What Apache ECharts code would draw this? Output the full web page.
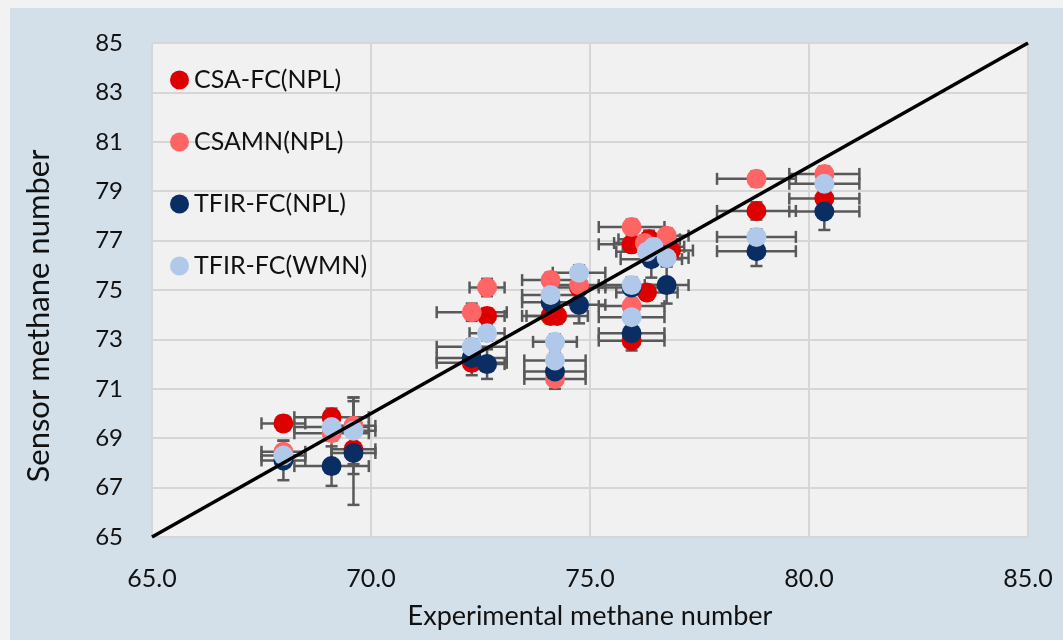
<!DOCTYPE html>
<html>
<head>
<meta charset="utf-8">
<script src="https://cdn.jsdelivr.net/npm/echarts@6/dist/echarts.min.js"></script>
<style>
  html, body { margin: 0; padding: 0; background: #f2f2f2; width: 1063px; height: 640px; overflow: hidden; }
  #chart { position: absolute; left: 10px; top: 8px; width: 1053px; height: 632px; }
</style>
</head>
<body>
<div id="chart"></div>
<script>
// ---- Data ----
const seriesNames = ['CSA-FC(NPL)', 'CSAMN(NPL)', 'TFIR-FC(NPL)', 'TFIR-FC(WMN)'];
const seriesColors = ['#dd0000', '#ff6565', '#0a2d63', '#b0c8ea'];

const csaFcX    = [68.0, 69.1, 69.6, 72.3, 72.65, 74.1, 74.25, 74.75, 75.95, 75.95, 76.35, 76.3, 76.85, 78.8, 80.35];
const csaFcY    = [69.6, 69.85, 68.55, 72.05, 73.95, 73.95, 73.95, 75.1, 76.85, 72.95, 77.05, 74.9, 76.6, 78.2, 78.7];
const csaFcXErr = [0.5, 0.85, 0.5, 0.8, 0.4, 0.65, 0.7, 0.6, 0.75, 0.75, 0.7, 0.7, 0.5, 0.9, 0.8];
const csaFcYErr = [0.3, 0.35, 1.0, 0.5, 0.3, 0.3, 0.3, 0.3, 0.3, 0.4, 0.35, 0.3, 0.3, 0.35, 0.3];

const csamnX    = [68.0, 69.1, 69.6, 72.3, 72.65, 74.1, 74.2, 74.75, 75.95, 75.95, 76.25, 76.75, 78.8, 80.35];
const csamnY    = [68.45, 69.2, 69.5, 74.1, 75.1, 75.4, 71.4, 75.2, 77.55, 74.35, 76.9, 77.2, 79.5, 79.7];
const csamnXErr = [0.5, 0.85, 0.5, 0.8, 0.4, 0.65, 0.7, 0.6, 0.75, 0.75, 0.7, 0.5, 0.9, 0.8];
const csamnYErr = [0.45, 0.3, 1.15, 0.35, 0.35, 0.3, 0.4, 0.3, 0.3, 0.3, 0.3, 0.3, 0.3, 0.3];

const tfirNplX    = [68.0, 69.1, 69.6, 72.3, 72.65, 74.1, 74.2, 74.75, 75.95, 75.95, 76.4, 76.75, 78.8, 80.35];
const tfirNplY    = [68.1, 67.87, 68.4, 72.25, 72.0, 74.5, 71.7, 74.4, 75.1, 73.25, 76.25, 75.2, 76.57, 78.18];
const tfirNplXErr = [0.5, 0.85, 0.5, 0.8, 0.4, 0.65, 0.7, 0.6, 0.75, 0.75, 0.7, 0.5, 0.9, 0.8];
const tfirNplYErr = [0.8, 0.8, 2.1, 0.3, 0.6, 0.3, 0.3, 0.75, 0.3, 0.3, 0.75, 0.75, 0.6, 0.75];

const tfirWmnX    = [68.0, 69.1, 69.6, 72.3, 72.65, 74.1, 74.2, 74.2, 74.75, 75.95, 75.95, 76.3, 76.45, 76.75, 78.8, 80.35];
const tfirWmnY    = [68.3, 69.45, 69.3, 72.7, 73.25, 74.8, 72.9, 72.15, 75.7, 75.2, 73.9, 76.55, 76.75, 76.3, 77.15, 79.3];
const tfirWmnXErr = [0.5, 0.85, 0.5, 0.8, 0.4, 0.65, 0.5, 0.7, 0.6, 0.75, 0.75, 0.7, 0.7, 0.5, 0.9, 0.8];
const tfirWmnYErr = [0.3, 0.3, 1.35, 0.3, 0.3, 0.3, 0.3, 0.3, 0.3, 0.3, 0.3, 0.3, 0.3, 0.3, 0.3, 0.3];

const identityLine = [[65, 65], [85, 85]];

const xAxisMin = 65, xAxisMax = 85, xAxisStep = 5;
const yAxisMin = 65, yAxisMax = 85, yAxisStep = 2;

// ---- Build options ----
const groups = [
  [csaFcX, csaFcY, csaFcXErr, csaFcYErr],
  [csamnX, csamnY, csamnXErr, csamnYErr],
  [tfirNplX, tfirNplY, tfirNplXErr, tfirNplYErr],
  [tfirWmnX, tfirWmnY, tfirWmnXErr, tfirWmnYErr]
];

const FONT = 'Lato';
const errColor = '#595959';

function errRender(params, api) {
  const x = api.value(0), y = api.value(1), ex = api.value(2), ey = api.value(3);
  const l = api.coord([x - ex, y]), r = api.coord([x + ex, y]);
  const t = api.coord([x, y + ey]), b = api.coord([x, y - ey]);
  const cap = 6;
  const st = { stroke: errColor, lineWidth: 2.5 };
  return {
    type: 'group',
    children: [
      { type: 'line', shape: { x1: l[0], y1: l[1], x2: r[0], y2: r[1] }, style: st },
      { type: 'line', shape: { x1: l[0], y1: l[1] - cap, x2: l[0], y2: l[1] + cap }, style: st },
      { type: 'line', shape: { x1: r[0], y1: r[1] - cap, x2: r[0], y2: r[1] + cap }, style: st },
      { type: 'line', shape: { x1: t[0], y1: t[1], x2: b[0], y2: b[1] }, style: st },
      { type: 'line', shape: { x1: t[0] - cap, y1: t[1], x2: t[0] + cap, y2: t[1] }, style: st },
      { type: 'line', shape: { x1: b[0] - cap, y1: b[1], x2: b[0] + cap, y2: b[1] }, style: st }
    ]
  };
}

const series = [];
groups.forEach(function (g, i) {
  const errData = g[0].map(function (x, k) { return [x, g[1][k], g[2][k], g[3][k]]; });
  series.push({
    name: seriesNames[i] + ' err',
    type: 'custom',
    renderItem: errRender,
    data: errData,
    encode: { x: 0, y: 1 },
    z: 1,
    silent: true
  });
});
groups.forEach(function (g, i) {
  series.push({
    name: seriesNames[i],
    type: 'scatter',
    data: g[0].map(function (x, k) { return [x, g[1][k]]; }),
    symbol: 'circle',
    symbolSize: 20,
    itemStyle: { color: seriesColors[i], opacity: 1 },
    z: 2 + i
  });
});
series.push({
  name: 'y = x',
  type: 'line',
  data: identityLine,
  symbol: 'none',
  lineStyle: { color: '#000', width: 3.5 },
  z: 10,
  silent: true
});

const chart = echarts.init(document.getElementById('chart'), null, { renderer: 'canvas' });
chart.setOption({
  animation: false,
  backgroundColor: '#d3dfe9',
  textStyle: { fontFamily: FONT },
  grid: {
    left: 142, right: 35, top: 35, bottom: 103,
    show: true, backgroundColor: '#f1f1f1', borderColor: '#cfcfcf', borderWidth: 1
  },
  legend: {
    data: seriesNames,
    orient: 'vertical',
    left: 155,
    top: 54,
    itemWidth: 19,
    itemHeight: 19,
    itemGap: 36,
    icon: 'circle',
    textStyle: { fontFamily: FONT, fontSize: 25, color: '#111', lineHeight: 26 }
  },
  xAxis: {
    type: 'value',
    min: xAxisMin, max: xAxisMax, interval: xAxisStep,
    name: 'Experimental methane number',
    nameLocation: 'middle',
    nameGap: 66,
    nameTextStyle: { fontFamily: FONT, fontSize: 27, color: '#111' },
    axisLine: { show: false },
    axisTick: { show: false },
    axisLabel: { fontFamily: FONT, fontSize: 25, color: '#111', margin: 29,
      formatter: function (v) { return v.toFixed(1); } },
    splitLine: { show: true, lineStyle: { color: '#d6d6d6', width: 2 } }
  },
  yAxis: {
    type: 'value',
    min: yAxisMin, max: yAxisMax, interval: yAxisStep,
    name: 'Sensor methane number',
    nameLocation: 'middle',
    nameGap: 98,
    nameTextStyle: { fontFamily: FONT, fontSize: 31, color: '#111', padding: [0, 52, 0, 0] },
    axisLine: { show: false },
    axisTick: { show: false },
    axisLabel: { fontFamily: FONT, fontSize: 24, color: '#111', margin: 29 },
    splitLine: { show: true, lineStyle: { color: '#d6d6d6', width: 2 } }
  },
  series: series
});
</script>
</body>
</html>
